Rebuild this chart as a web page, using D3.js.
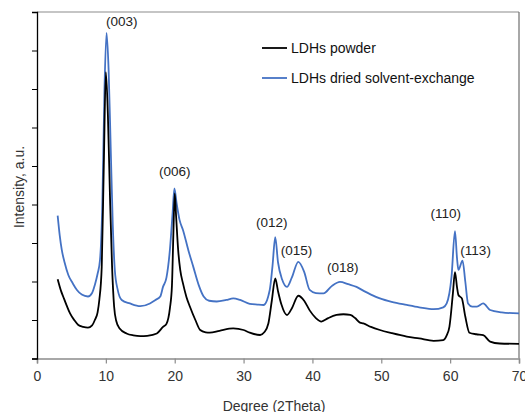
<!DOCTYPE html>
<html>
<head>
<meta charset="utf-8">
<title>LDHs XRD</title>
<script src="https://d3js.org/d3.v7.min.js"></script>
<style>
body { margin: 0; background: #fff; }
text { font-family: "Liberation Sans", Arial, sans-serif; }
</style>
</head>
<body>
<div id="container"></div>
<script>

//------------------------------DATA------------------------------//
var xTicks = [0, 10, 20, 30, 40, 50, 60, 70];
var yTicks = [0, 1, 2, 3, 4, 5, 6, 7, 8, 9];

var seriesNames = ["LDHs powder", "LDHs dried solvent-exchange"];
var seriesColors = ["#000000", "#4472c4"];

// LDHs powder (black)
var powderDeg = [3.0, 3.5, 3.8, 4.3, 4.8, 5.4, 6.0, 6.7, 7.4, 8.0, 8.4, 8.8, 9.05, 9.4, 9.7, 10.0, 10.3, 10.6, 10.9, 11.2,
  11.5, 12.0, 13.0, 14.0, 15.0, 16.0, 17.4, 18.3, 18.8, 19.3, 19.6, 19.8, 20.0, 20.2, 20.5, 20.8, 21.2, 21.7, 22.2, 23.0,
  23.7, 24.5, 25.1, 26.5, 28.5, 30.0, 30.9, 32.4, 33.0, 33.6, 34.1, 34.6, 35.0, 35.5, 36.3, 37.0, 37.95, 38.8, 39.6, 40.5,
  41.3, 42.3, 43.5, 44.5, 45.5, 46.2, 46.9, 47.4, 48.5, 49.8, 51.5, 53.7, 55.5, 57.6, 59.0, 59.5, 59.9, 60.4, 60.7, 61.0,
  61.2, 61.7, 62.2, 62.8, 63.8, 64.8, 65.8, 67.2, 70.0];
var powderInt = [2.06, 1.75, 1.61, 1.38, 1.17, 1.0, 0.87, 0.82, 0.80, 0.86, 1.0, 1.2, 1.52, 2.38, 5.0, 7.44, 6.3, 4.2, 2.4, 1.35,
  0.98, 0.78, 0.65, 0.60, 0.58, 0.59, 0.65, 0.82, 0.9, 1.3, 1.9, 3.2, 4.29, 3.7, 2.82, 2.3, 1.95, 1.6, 1.35, 1.0,
  0.74, 0.68, 0.67, 0.72, 0.78, 0.74, 0.67, 0.61, 0.68, 0.91, 1.5, 2.08, 1.75, 1.4, 1.13, 1.3, 1.63, 1.5, 1.25, 1.05,
  0.96, 1.05, 1.13, 1.15, 1.13, 1.05, 0.93, 0.91, 0.82, 0.74, 0.66, 0.57, 0.52, 0.46, 0.48, 0.6, 0.83, 1.69, 2.24, 1.85,
  1.65, 1.56, 1.09, 0.67, 0.63, 0.61, 0.44, 0.39, 0.38];

// LDHs dried solvent-exchange (blue)
var exchDeg = [3.0, 3.3, 3.6, 4.0, 4.55, 5.2, 5.8, 6.5, 7.4, 8.0, 8.4, 8.8, 9.15, 9.5, 9.8, 10.1, 10.4, 10.7, 11.0, 11.3,
  11.7, 12.3, 13.5, 15.0, 16.4, 17.2, 17.9, 18.3, 18.8, 19.3, 19.7, 19.95, 20.3, 20.7, 21.2, 22.0, 22.7, 23.5, 24.2, 25.0,
  26.1, 27.5, 28.5, 29.5, 30.9, 32.0, 32.9, 33.8, 34.2, 34.6, 35.0, 35.6, 36.3, 37.0, 37.95, 38.8, 39.6, 40.5, 41.6, 42.8,
  44.0, 45.2, 46.4, 47.5, 48.5, 49.8, 51.5, 53.7, 55.5, 57.6, 59.0, 59.5, 60.2, 60.7, 61.0, 61.2, 61.8, 62.2, 62.6, 63.2,
  63.9, 64.8, 65.8, 67.5, 70.0];
var exchInt = [3.71, 3.2, 2.82, 2.5, 2.17, 1.95, 1.78, 1.66, 1.61, 1.7, 1.91, 2.2, 2.56, 4.1, 7.0, 8.46, 7.5, 5.5, 3.5, 2.3,
  1.8, 1.52, 1.43, 1.36, 1.43, 1.52, 1.61, 1.86, 2.1, 2.82, 3.8, 4.42, 4.0, 3.6, 3.34, 2.8, 2.38, 1.9, 1.61, 1.50,
  1.48, 1.52, 1.56, 1.52, 1.42, 1.40, 1.39, 1.78, 2.4, 3.15, 2.5, 2.05, 1.86, 2.1, 2.51, 2.25, 1.78, 1.7, 1.69, 1.88,
  1.99, 1.93, 1.86, 1.75, 1.66, 1.56, 1.47, 1.39, 1.33, 1.28, 1.33, 1.43, 2.12, 3.31, 2.6, 2.30, 2.54, 2.0, 1.43, 1.35,
  1.35, 1.43, 1.26, 1.2, 1.17];

// peak labels (text anchor point in data units)
var peakNames = ["(003)", "(006)", "(012)", "(015)", "(018)", "(110)", "(113)"];
var peakDeg = [12.3, 20.0, 34.1, 37.7, 44.4, 59.35, 63.7];
var peakInt = [8.64, 4.74, 3.42, 2.69, 2.25, 3.65, 2.69];

//---------------------------SVG SETUP----------------------------//
var width = 525, height = 412;
var margin = {left: 37, top: 12, right: 6, bottom: 53.5};
var w = width - margin.left - margin.right;
var h = height - margin.top - margin.bottom;

var svg = d3.select("#container").append("svg")
  .attr("width", width)
  .attr("height", height);

var g = svg.append("g")
  .attr("transform", "translate(" + margin.left + "," + margin.top + ")");

var xScale = d3.scaleLinear().domain([0, 70]).range([0, w]);
var yScale = d3.scaleLinear().domain([0, 9]).range([h, 0]);

// plot border (top / right)
g.append("line").attr("x1", 0).attr("x2", w).attr("y1", 0).attr("y2", 0)
  .attr("stroke", "#8c8c8c").attr("stroke-width", 1.2);
g.append("line").attr("x1", w).attr("x2", w).attr("y1", 0).attr("y2", h)
  .attr("stroke", "#6e6e6e").attr("stroke-width", 1.2);

//------------------------------AXES------------------------------//
var xaxis = d3.axisBottom(xScale).tickValues(xTicks).tickSize(5).tickPadding(8).tickFormat(d3.format("d"));
var gx = g.append("g")
  .attr("transform", "translate(0," + h + ")")
  .call(xaxis);
gx.select(".domain").attr("stroke", "#8c8c8c").attr("stroke-width", 1.5);
gx.selectAll(".tick line").attr("stroke", "#8c8c8c").attr("stroke-width", 1.2);
gx.selectAll("text").attr("font-size", 14).attr("fill", "#333")
  .attr("font-family", "Liberation Sans, Arial, sans-serif");

var yaxis = d3.axisLeft(yScale).tickValues(yTicks).tickSize(5).tickFormat("");
var gy = g.append("g").call(yaxis);
gy.select(".domain").attr("stroke", "#000").attr("stroke-width", 1.3);
gy.selectAll(".tick line").attr("stroke", "#000");

// titles
svg.append("text")
  .attr("x", margin.left + w / 2 - 4)
  .attr("y", 411)
  .attr("text-anchor", "middle")
  .attr("font-size", 14)
  .attr("fill", "#333")
  .text("Degree (2Theta)");

svg.append("text")
  .attr("transform", "translate(24," + 187 + ") rotate(-90)")
  .attr("text-anchor", "middle")
  .attr("font-size", 14)
  .attr("fill", "#333")
  .text("Intensity, a.u.");

//-----------------------------LINES------------------------------//
var series = [
  {name: seriesNames[0], color: seriesColors[0], values: powderDeg.map(function(d, i) { return {x: d, y: powderInt[i]}; })},
  {name: seriesNames[1], color: seriesColors[1], values: exchDeg.map(function(d, i) { return {x: d, y: exchInt[i]}; })}
];

var line = d3.line()
  .x(function(d) { return xScale(d.x); })
  .y(function(d) { return yScale(d.y); })
  .curve(d3.curveMonotoneX);

// draw blue first so black sits on top like the original
g.selectAll(".serie")
  .data(series.slice().reverse())
  .enter()
  .append("path")
  .attr("class", "serie")
  .attr("fill", "none")
  .attr("stroke", function(d) { return d.color; })
  .attr("stroke-width", 1.8)
  .attr("stroke-linejoin", "round")
  .attr("d", function(d) { return line(d.values); });

//---------------------------PEAK LABELS---------------------------//
g.selectAll(".peak")
  .data(peakNames)
  .enter()
  .append("text")
  .attr("class", "peak")
  .attr("x", function(d, i) { return xScale(peakDeg[i]); })
  .attr("y", function(d, i) { return yScale(peakInt[i]); })
  .attr("text-anchor", "middle")
  .attr("font-size", 13.5)
  .attr("fill", "#222")
  .text(function(d) { return d; });

//-----------------------------LEGEND------------------------------//
var legend = svg.append("g").attr("transform", "translate(262,48)");
var items = legend.selectAll(".item")
  .data(series)
  .enter()
  .append("g")
  .attr("transform", function(d, i) { return "translate(0," + (i * 30) + ")"; });
items.append("line")
  .attr("x1", 0).attr("x2", 25)
  .attr("stroke", function(d) { return d.color; })
  .attr("stroke-width", 1.8);
items.append("text")
  .attr("x", 29)
  .attr("y", 5)
  .attr("font-size", 14)
  .attr("fill", "#111")
  .text(function(d) { return d.name; });

</script>
</body>
</html>
